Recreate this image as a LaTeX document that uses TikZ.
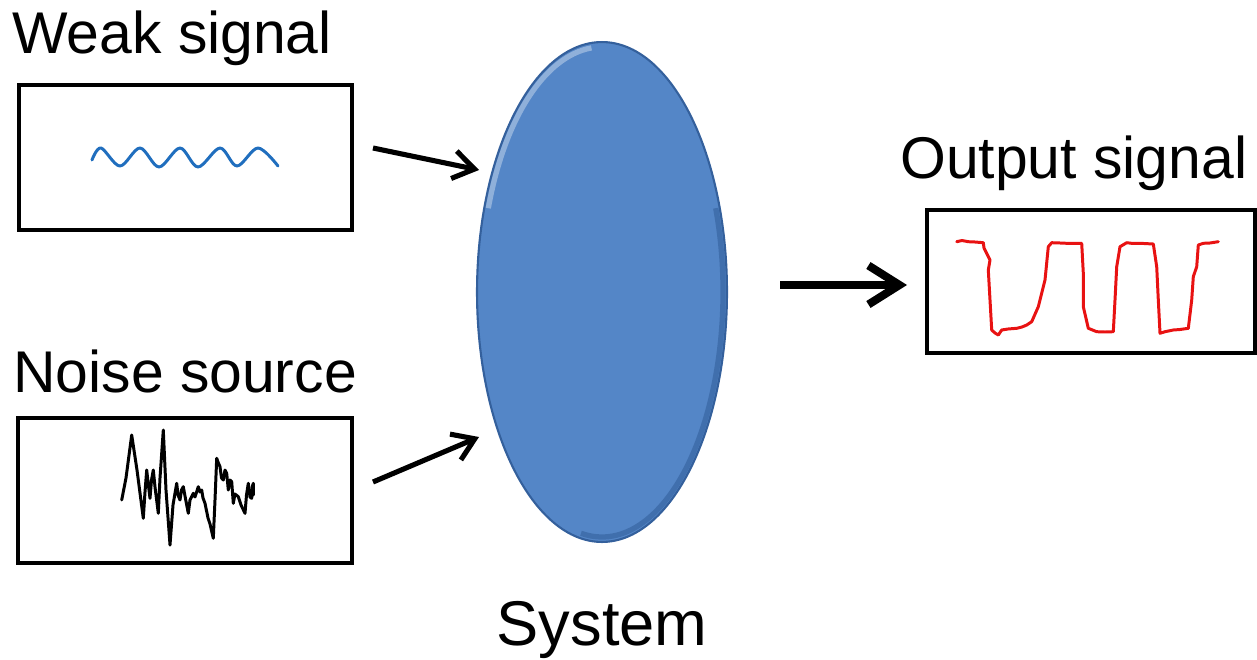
\documentclass[tikz,border=0pt]{standalone}
\usepackage{fontspec}
\setmainfont{Liberation Sans}
\usetikzlibrary{shapes.geometric,arrows.meta}
\definecolor{ellblue}{RGB}{84,134,199}
\definecolor{ellrim}{RGB}{52,96,156}
\definecolor{wavblue}{RGB}{32,110,190}
\definecolor{sigred}{RGB}{232,18,18}
\tikzset{
  sigbox/.style={draw=black, line width=2.3pt, rectangle, inner sep=0pt},
  lbl/.style={inner sep=0pt, anchor=base west, font=\fontsize{33.5}{40}\selectfont},
  inarrow/.style={line width=2.9pt, -{Straight Barb[length=0.42cm,width=0.56cm]}},
  outarrow/.style={line width=4.6pt, -{Straight Barb[length=0.62cm,width=0.78cm]}},
  trace/.style={line width=1.7pt, line join=round, line cap=round}
}
\begin{document}
\begin{tikzpicture}[x=0.02cm, y=-0.02cm]
\useasboundingbox (0,0) rectangle (1257,659);

% labels
\node[lbl] (tw) at (12,53) {Weak signal};
\node[lbl] (tn) at (13,392) {Noise source};
\node[lbl] (to) at (900,178) {Output signal};
\node[inner sep=0pt, anchor=base, font=\fontsize{36}{43}\selectfont] (ts) at (602,645) {System};

% boxes
\node[sigbox, minimum width=6.66cm, minimum height=2.9cm] (weak) at (185.5,157.5) {};
\node[sigbox, minimum width=6.68cm, minimum height=2.9cm] (noise) at (185,490.5) {};
\node[sigbox, minimum width=6.56cm, minimum height=2.86cm] (out) at (1091,281.5) {};

% system ellipse
\node[ellipse, minimum width=5cm, minimum height=10cm, inner sep=0pt,
      fill=ellblue, draw=ellrim, line width=1.2pt] (sys) at (602,292) {};
\begin{scope}
  \clip (602,292) ellipse [x radius=125, y radius=250];
  \draw[white, opacity=0.35, line width=3pt] (602,292) ++(200:121 and 245) arc[start angle=200, end angle=265, x radius=121, y radius=245];
  \draw[ellrim, opacity=0.6, line width=3pt] (602,292) ++(-20:121 and 245) arc[start angle=-20, end angle=100, x radius=121, y radius=245];
\end{scope}

% arrows
\coordinate (a1s) at (373,148);
\coordinate (a1e) at (479,170);
\coordinate (a2s) at (373,482);
\coordinate (a2e) at (479,437);
\coordinate (a3s) at (780,285);
\coordinate (a3e) at (907,285);
\draw[inarrow] (a1s) -- (a1e);
\draw[inarrow] (a2s) -- (a2e);
\draw[outarrow] (a3s) -- (a3e);

% weak signal wave
\draw[wavblue, trace] plot[smooth, tension=0.55] coordinates {
 (92,160) (101,148) (120,166) (140,148) (159,167) (180,148) (198,167)
 (220,148) (237,166) (258,148) (278,166)};

% noise
\draw[black, trace] plot coordinates {
 (121.7,500) (126,478) (131.7,435) (137,470) (143.3,518.3) (145,492) (146.7,470)
 (148.5,486) (150,498.3) (151.5,480) (153.3,470) (155,487) (158.3,513.3)
 (160,478) (163.3,430) (166,490) (170,545) (173,505) (176.7,483.3)
 (178,495) (180,500) (181.5,490) (183.3,486.7) (185,496) (188.3,513.3)
 (190,500) (193.3,493.3) (195,497) (198.3,486.7) (200,492) (201.7,490)
 (203,498) (205,503.3) (208,518) (210,524) (213.3,538.3) (215,500)
 (216.7,458.3) (218,462) (220,466.7) (221.5,478) (223.3,480) (225,470)
 (226.7,473.3) (228.3,490) (230,480) (231.7,481.7) (233.3,503.3)
 (235,494) (238.3,496.7) (241,505) (245,513.3) (246.5,495) (248.3,483.3)
 (250,497) (251.7,498.3) (252.5,486) (253.3,483.3) (253.3,495)};

% output trace
\draw[sigred, trace] plot coordinates {
 (956.7,241.7) (962,240.5) (968.3,241.7) (975,242) (983.3,242.7) (984,248) (985,250) (990,260)
 (988.3,270) (990,300) (991.7,330) (995,333) (998.3,335) (1001.7,330) (1008,329) (1016.7,328.3)
 (1022,327) (1026.7,325) (1031.7,321.7) (1038.3,306.7) (1045,280) (1048.3,246.7)
 (1051.7,242.7) (1060,243) (1066.7,243.3) (1081.7,243.3) (1083.3,273.3) (1083.3,306.7)
 (1088.3,328.3) (1096.7,331.7) (1105,332) (1113.3,331.7) (1115,300) (1116.7,266.7)
 (1120,246.7) (1126.7,242.7) (1133,243.5) (1140,243.3) (1153.3,244) (1156.7,266.7)
 (1158.3,300) (1160,333.3) (1165,331.7) (1173.3,330) (1180,329.5) (1188.3,328.3)
 (1191.7,300) (1193.3,276.7) (1196.7,266.7) (1198.3,245) (1203.3,243.3) (1210,243)
 (1218.3,241.7)};
\end{tikzpicture}
\end{document}
